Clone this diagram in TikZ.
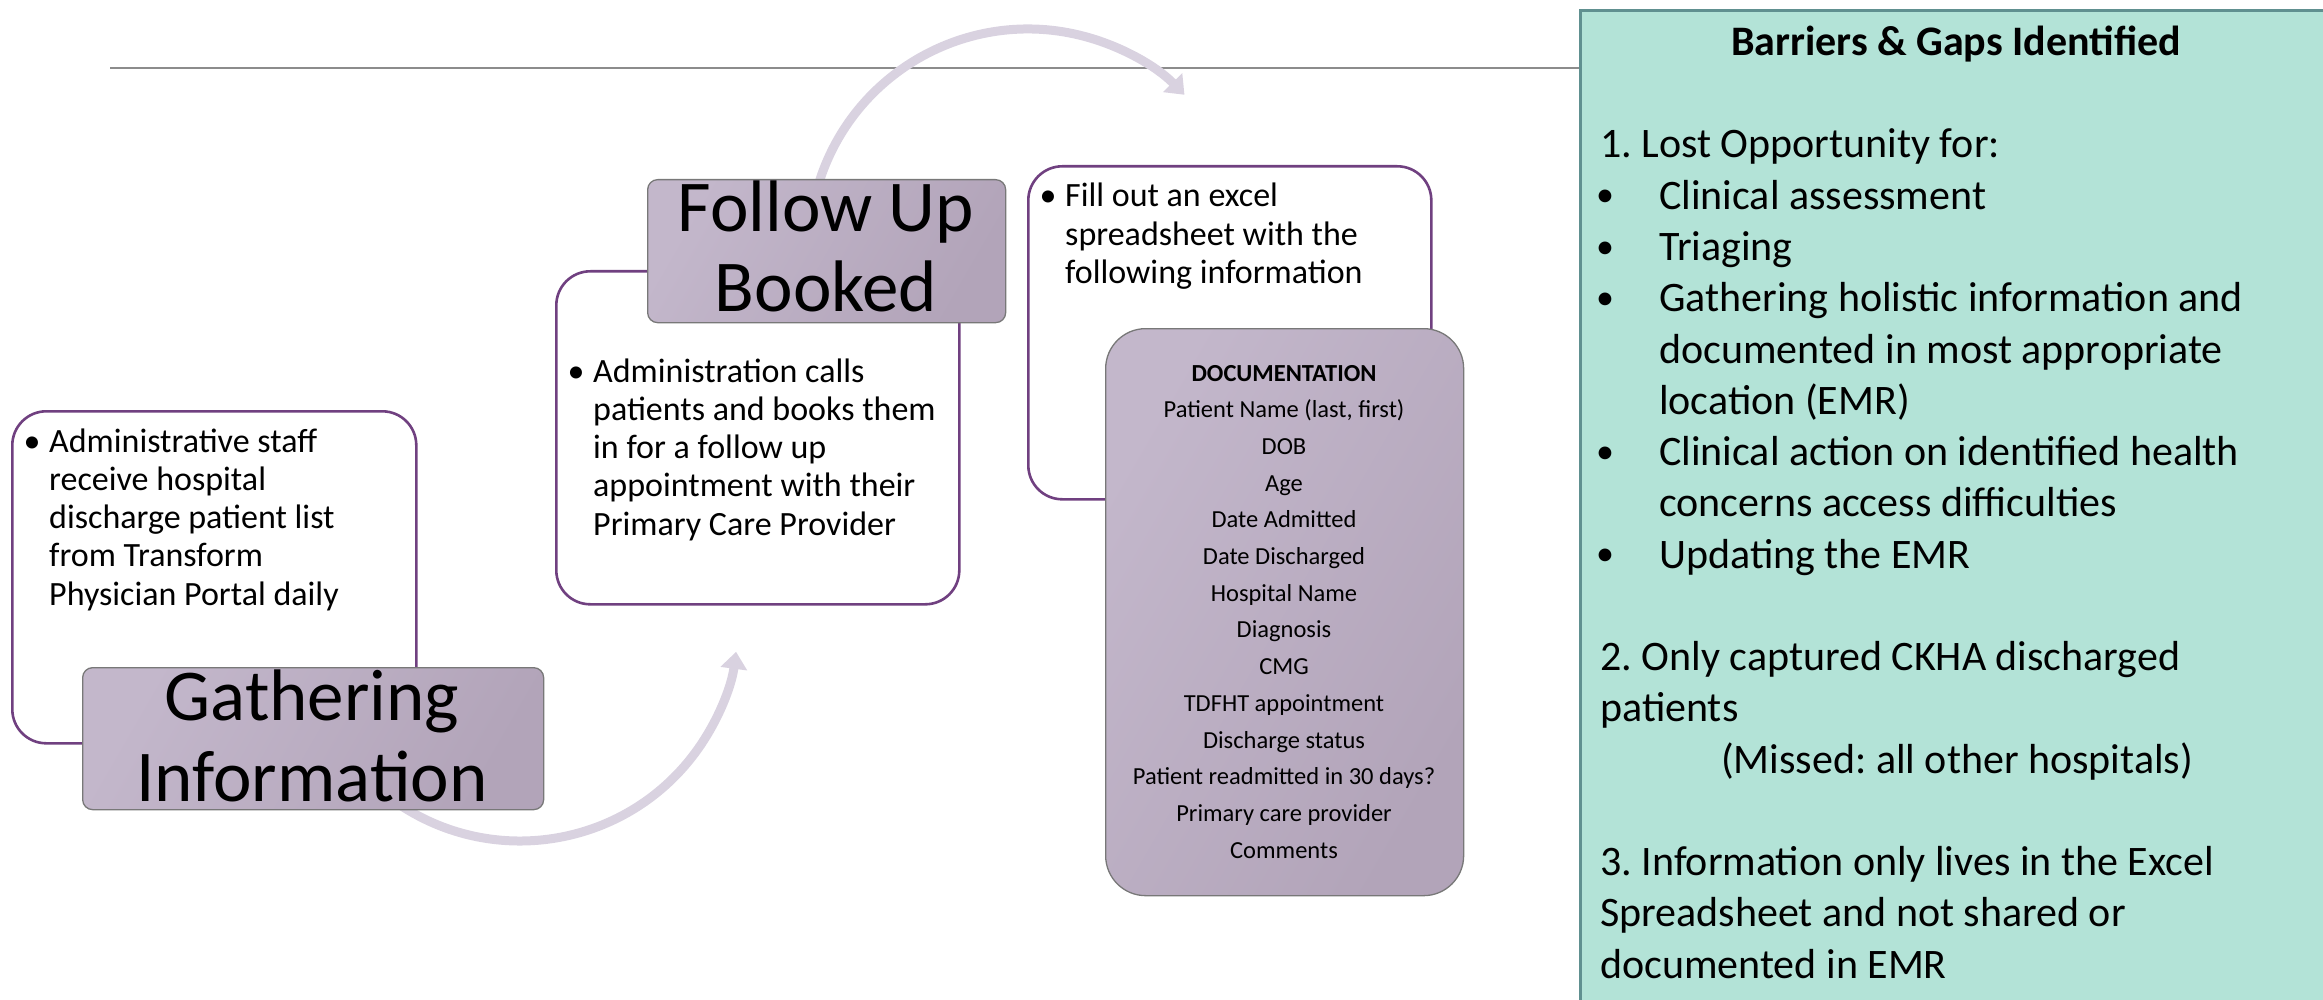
\documentclass[tikz,border=0pt]{standalone}
\usepackage{fontspec}
\setmainfont{Carlito}
\usetikzlibrary{arrows.meta}
\frenchspacing
\definecolor{boxpurple}{RGB}{112,64,128}
\definecolor{lblL}{RGB}{195,183,203}
\definecolor{lblD}{RGB}{178,164,185}
\definecolor{lblborder}{RGB}{120,120,120}
\definecolor{greenfill}{RGB}{179,227,215}
\definecolor{greenborder}{RGB}{96,144,144}
\definecolor{arrowcol}{RGB}{217,210,224}
\definecolor{rulegray}{RGB}{140,140,140}
\tikzset{
  whitebox/.style={draw=boxpurple, line width=2.6pt, fill=white, rounded corners=34pt, inner sep=0pt, anchor=north west},
  lblbox/.style={draw=lblborder, line width=1.3pt, rounded corners=10pt, inner sep=0pt, anchor=north west,
     shading=axis, left color=lblL, right color=lblD, shading angle=60},
  docbox/.style={lblbox, rounded corners=40pt},
  greenbox/.style={draw=greenborder, line width=2.6pt, fill=greenfill, inner sep=0pt, anchor=north west},
  rulestyle/.style={draw=rulegray, line width=1.8pt},
  flowarrow/.style={draw=arrowcol, line width=9pt, -{Triangle[width=26pt,length=17pt]}},
  bodytxt/.style={inner sep=0pt, anchor=base west, font=\fontsize{34}{38}\selectfont},
  bodybullet/.style={bodytxt, anchor=base},
  lbltxt/.style={inner sep=0pt, anchor=base, font=\fontsize{73}{80}\selectfont},
  doctxt/.style={inner sep=0pt, anchor=base, font=\fontsize{24.5}{30}\selectfont},
  grtxt/.style={inner sep=0pt, anchor=base west, font=\fontsize{42}{51}\selectfont},
  grbullet/.style={inner sep=0pt, anchor=base, font=\fontsize{36}{51}\selectfont},
}
\begin{document}
\begin{tikzpicture}[x=1pt,y=-1pt]
\useasboundingbox (0,0) rectangle (2323,1000);
\clip (0,0) rectangle (2323,1000);

% right panel
\node[greenbox, minimum width=780pt, minimum height=1020pt] (gbox) at (1579,9) {};

% horizontal rule
\coordinate (hl) at (110,68);
\draw[rulestyle] (hl) -- (hl -| gbox.west);

% curved arrows
\coordinate (a1c) at (520,623);
\coordinate (a1s) at ({520+218*cos(125)},{623+218*sin(125)});
\draw[flowarrow] (a1s) arc[start angle=125, end angle=7.6, radius=218];
\coordinate (a2c) at (1028,248);
\coordinate (a2s) at ({1028+219*cos(195)},{248+219*sin(195)});
\draw[flowarrow] (a2s) arc[start angle=195, end angle=315.6, radius=219];

% white boxes
\node[whitebox, minimum width=404pt, minimum height=332pt] (box1) at (11,410) {};
\node[whitebox, minimum width=403pt, minimum height=333pt] (box2) at (555,270) {};
\node[whitebox, minimum width=403pt, minimum height=333pt] (box3) at (1027,165) {};

% label boxes
\node[lblbox, minimum width=461pt, minimum height=142pt] (lbl1) at (82,667) {};
\node[lblbox, minimum width=358pt, minimum height=143pt] (lbl2) at (647,179) {};
\node[docbox, minimum width=358pt, minimum height=567pt] (doc) at (1105,328) {};

% box 1 text
\node[bodybullet] (b1b) at (32,452) {•};
\node[bodytxt] (b1t1) at (49,452) {Administrative staff};
\node[bodytxt] (b1t2) at (49,490.3) {receive hospital};
\node[bodytxt] (b1t3) at (49,528.6) {discharge patient list};
\node[bodytxt] (b1t4) at (49,566.9) {from Transform};
\node[bodytxt] (b1t5) at (49,605.2) {Physician Portal daily};

% box 2 text
\node[bodybullet] (b2b) at (576,382) {•};
\node[bodytxt] (b2t1) at (593,382) {Administration calls};
\node[bodytxt] (b2t2) at (593,420.3) {patients and books them};
\node[bodytxt] (b2t3) at (593,458.6) {in for a follow up};
\node[bodytxt] (b2t4) at (593,496.9) {appointment with their};
\node[bodytxt] (b2t5) at (593,535.2) {Primary Care Provider};

% box 3 text
\node[bodybullet] (b3b) at (1048,207) {•};
\node[bodytxt] (b3t1) at (1065,207) {Fill out an excel};
\node[bodytxt] (b3t2) at (1065,245.3) {spreadsheet with the};
\node[bodytxt] (b3t3) at (1065,283.6) {following information};

% label texts
\node[lbltxt] (l1t1) at (312,720) {Gathering};
\node[lbltxt] (l1t2) at (312,801) {Information};
\node[lbltxt] (l2t1) at (826,232) {Follow Up};
\node[lbltxt] (l2t2) at (826,312) {Booked};

% documentation list
\node[doctxt, font=\fontsize{24.5}{30}\selectfont\bfseries] (d0) at (1284,381) {DOCUMENTATION};
\foreach \t [count=\i] in {{Patient Name (last, first)},DOB,Age,Date Admitted,Date Discharged,Hospital Name,Diagnosis,CMG,TDFHT appointment,Discharge status,Patient readmitted in 30 days?,Primary care provider,Comments}
  \node[doctxt] (d\i) at (1284,{381+36.7*\i}) {\t};

% barriers panel text
\node[inner sep=0pt, anchor=base, font=\fontsize{42}{51}\selectfont\bfseries] (gtitle) at (1956,55.5) {Barriers \& Gaps Identified};
\node[grtxt] (g0) at (1600,158) {1. Lost Opportunity for:};
\node[grbullet] (gb1) at (1605,207) {•};
\node[grtxt] (g1) at (1659,209.25) {Clinical assessment};
\node[grbullet] (gb2) at (1605,258.25) {•};
\node[grtxt] (g2) at (1659,260.5) {Triaging};
\node[grbullet] (gb3) at (1605,309.5) {•};
\node[grtxt] (g3) at (1659,311.75) {Gathering holistic information and};
\node[grtxt] (g4) at (1659,363) {documented in most appropriate};
\node[grtxt] (g5) at (1659,414.25) {location (EMR)};
\node[grbullet] (gb6) at (1605,463.25) {•};
\node[grtxt] (g6) at (1659,465.5) {Clinical action on identified health};
\node[grtxt] (g7) at (1659,516.75) {concerns access difficulties};
\node[grbullet] (gb8) at (1605,565.75) {•};
\node[grtxt] (g8) at (1659,568) {Updating the EMR};
\node[grtxt] (g10) at (1600,670.5) {2. Only captured CKHA discharged};
\node[grtxt] (g11) at (1600,721.75) {patients};
\node[grtxt] (g12) at (1721,773) {(Missed: all other hospitals)};
\node[grtxt] (g14) at (1600,875.5) {3. Information only lives in the Excel};
\node[grtxt] (g15) at (1600,926.75) {Spreadsheet and not shared or};
\node[grtxt] (g16) at (1600,978) {documented in EMR};
\end{tikzpicture}
\end{document}
